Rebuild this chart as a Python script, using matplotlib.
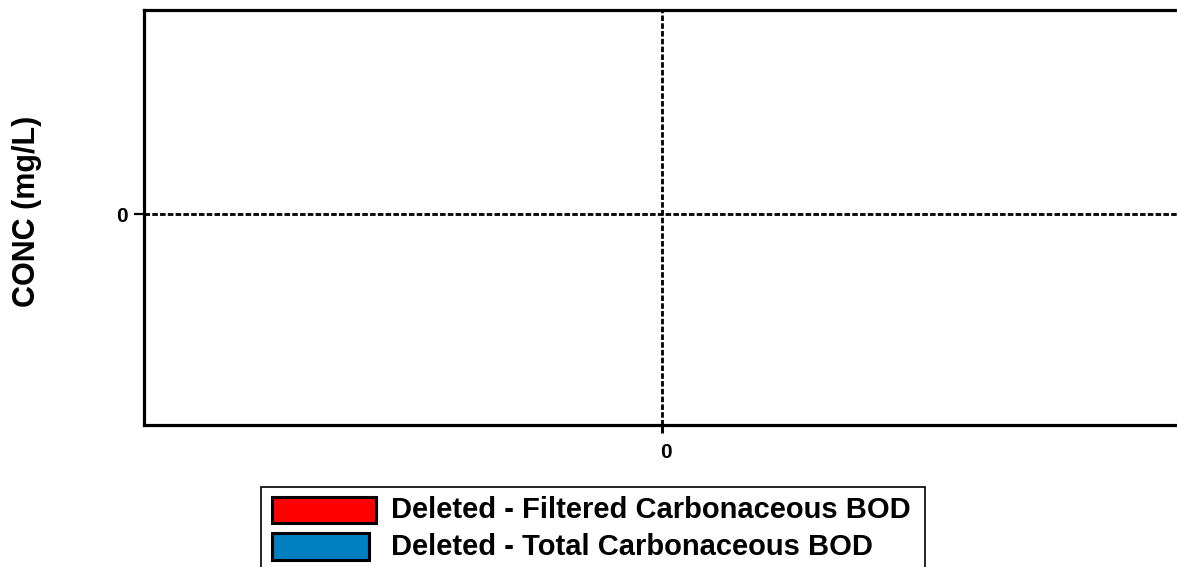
import matplotlib
matplotlib.use("Agg")
import matplotlib.pyplot as plt
from matplotlib.patches import Rectangle
from matplotlib.transforms import ScaledTranslation

plt.rcParams['font.family'] = ['Liberation Sans', 'DejaVu Sans']
plt.rcParams['font.weight'] = 'bold'

# Data (all series deleted -> empty)
x_values = []
filtered_bod = []
total_bod = []
x_ticks = [0]
y_ticks = [0]
series_names = ["Deleted - Filtered Carbonaceous BOD", "Deleted - Total Carbonaceous BOD"]
series_colors = ["#FF0000", "#0080C0"]

W, H = 1177, 567
fig = plt.figure(figsize=(W / 100, H / 100), dpi=100)
ax = fig.add_axes([144 / W, (H - 425) / H, (1181 - 144) / W, 415 / H])

ax.plot(x_values, filtered_bod, color=series_colors[0])
ax.plot(x_values, total_bod, color=series_colors[1])

ax.set_xlim(-1, 1)
ax.set_ylim(-1.034, 1)
ax.set_xticks(x_ticks)
ax.set_yticks(y_ticks)
ax.set_xticklabels([str(v) for v in x_ticks], fontsize=15, fontweight='bold')
ax.set_yticklabels([str(v) for v in y_ticks], fontsize=15, fontweight='bold')
ax.tick_params(axis='x', length=6, width=2.2, pad=7)
ax.tick_params(axis='y', length=7, width=1.6, pad=5)
for lbl in ax.get_xticklabels():
    lbl.set_transform(lbl.get_transform() + ScaledTranslation(3 / 100, 0, fig.dpi_scale_trans))

for s in ['left', 'top', 'bottom']:
    ax.spines[s].set_linewidth(2.3)
ax.spines['right'].set_visible(False)

ax.axhline(0, color='black', lw=2.0, ls=(0, (2.0, 0.8)), zorder=1)
ax.axvline(0, color='black', lw=2.0, ls=(0, (2.0, 0.8)), zorder=1)

fig.text(27 / W, 1 - 211 / H, "CONC (mg/L)", rotation=90, fontsize=22,
         fontweight='bold', ha='center', va='center')

# Legend (drawn manually to mimic differing swatch widths)
fig.add_artist(Rectangle((261 / W, 1 - 580 / H), (925 - 261) / W, (580 - 487) / H,
                         transform=fig.transFigure, facecolor='white',
                         edgecolor='black', lw=1.2))
swatches = [(272, 497, 104, 26), (272, 533, 97, 27)]
text_base = [518, 555]
for (sx, sy, sw, sh), name, col, ty in zip(swatches, series_names, series_colors, text_base):
    fig.add_artist(Rectangle((sx / W, 1 - (sy + sh) / H), sw / W, sh / H,
                             transform=fig.transFigure, facecolor=col,
                             edgecolor='black', lw=2.2))
    fig.text(391 / W, 1 - ty / H, name, fontsize=21, fontweight='bold',
             ha='left', va='baseline')

fig.savefig("out.png", dpi=100)
